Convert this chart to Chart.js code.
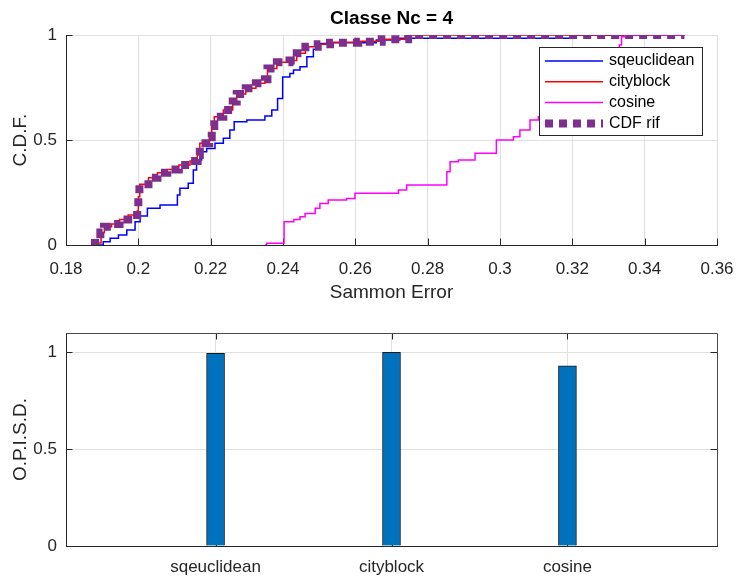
<!DOCTYPE html>
<html>
<head>
<meta charset="utf-8">
<script src="https://cdn.jsdelivr.net/npm/chart.js@4.4.0/dist/chart.umd.min.js"></script>
<style>
  html, body { margin: 0; padding: 0; background: #fff; }
  #wrap { position: relative; width: 738px; height: 576px; }
  #wrap canvas { position: absolute; left: 0; }
</style>
</head>
<body>
<div id="wrap">
  <canvas id="cdfChart" width="738" height="305" style="top:0"></canvas>
  <canvas id="barChart" width="738" height="271" style="top:305px"></canvas>
</div>
<script>
// Empirical CDFs of the Sammon error: x = where each stair jumps, y = level after the jump
const sqeuclideanX = [0.1885, 0.1903, 0.1922, 0.1945, 0.1968, 0.1991, 0.2005, 0.2025, 0.2060, 0.2108,
  0.2115, 0.2138, 0.2152, 0.2161, 0.2175, 0.2189, 0.2212, 0.2235, 0.2253, 0.2265, 0.2300, 0.2350,
  0.2369, 0.2385, 0.2399, 0.2419, 0.2429, 0.2447, 0.2466, 0.2484, 0.2497, 0.2530, 0.2658, 0.2723,
  0.3207, 0.3510];
const sqeuclideanY = [0, 0.016, 0.032, 0.048, 0.071, 0.111, 0.138, 0.175, 0.190, 0.238,
  0.270, 0.294, 0.357, 0.405, 0.444, 0.460, 0.484, 0.508, 0.548, 0.587, 0.595, 0.614,
  0.643, 0.698, 0.800, 0.817, 0.833, 0.849, 0.897, 0.932, 0.960, 0.963, 0.976, 0.984,
  1.0, 1.0];

const cityblockX = [0.1875, 0.1882, 0.1897, 0.1906, 0.1926, 0.1948, 0.1972, 0.1997, 0.2000, 0.2004,
  0.2028, 0.2053, 0.2080, 0.2112, 0.2143, 0.2163, 0.2170, 0.2196, 0.2203, 0.2210, 0.2235, 0.2261,
  0.2272, 0.2297, 0.2325, 0.2350, 0.2357, 0.2383, 0.2418, 0.2438, 0.2462, 0.2496, 0.2532, 0.2610,
  0.2675, 0.2746, 0.3510];
const cityblockY = [0, 0.010, 0.060, 0.087, 0.100, 0.122, 0.143, 0.162, 0.230, 0.289,
  0.320, 0.344, 0.360, 0.381, 0.400, 0.429, 0.484, 0.513, 0.567, 0.611, 0.643, 0.683,
  0.719, 0.746, 0.770, 0.789, 0.841, 0.870, 0.878, 0.913, 0.944, 0.956, 0.965, 0.970,
  0.980, 1.0, 1.0];

const cosineX = [0.2350, 0.2355, 0.2403, 0.2430, 0.2447, 0.2461, 0.2489, 0.2502, 0.2525, 0.2576,
  0.2599, 0.2719, 0.2742, 0.2853, 0.2862, 0.2885, 0.2931, 0.2990, 0.3037, 0.3055, 0.3083, 0.3106,
  0.3150, 0.3200, 0.3250, 0.3300, 0.3330, 0.3336, 0.3345, 0.3510];
const cosineY = [0, 0.008, 0.111, 0.122, 0.135, 0.150, 0.175, 0.198, 0.214, 0.222,
  0.246, 0.262, 0.286, 0.349, 0.397, 0.405, 0.437, 0.500, 0.516, 0.548, 0.595, 0.611,
  0.660, 0.720, 0.800, 0.880, 0.952, 0.992, 1.0, 1.0];

const rifX = [0.1875, 0.1880, 0.1895, 0.1905, 0.1925, 0.1948, 0.1972, 0.1997, 0.2000, 0.2003,
  0.2028, 0.2053, 0.2080, 0.2112, 0.2143, 0.2164, 0.2170, 0.2196, 0.2203, 0.2210, 0.2235, 0.2261,
  0.2272, 0.2297, 0.2325, 0.2350, 0.2357, 0.2383, 0.2418, 0.2438, 0.2462, 0.2496, 0.2530, 0.2608,
  0.2673, 0.2746, 0.3510];
const rifY = [0, 0.010, 0.060, 0.087, 0.100, 0.122, 0.143, 0.162, 0.230, 0.289,
  0.320, 0.344, 0.360, 0.381, 0.400, 0.429, 0.484, 0.513, 0.567, 0.611, 0.643, 0.683,
  0.719, 0.746, 0.770, 0.789, 0.841, 0.870, 0.878, 0.913, 0.944, 0.956, 0.963, 0.968,
  0.980, 1.0, 1.0];

const cdfXTicks = [0.18, 0.2, 0.22, 0.24, 0.26, 0.28, 0.3, 0.32, 0.34, 0.36];
const cdfYTicks = [0, 0.5, 1];

// O.P.I.S.D. per distance metric
const metrics = ['sqeuclidean', 'cityblock', 'cosine'];
const opisdValues = [0.995, 1.0, 0.93];
const barXTicks = [1, 2, 3];
const barYTicks = [0, 0.5, 1];

const FONT = '"Liberation Sans", Arial, sans-serif';
const AXIS = '#262626';
const GRID = '#e0e0e0';
const TICK_SIZE = 17;
const LABEL_SIZE = 19;
Chart.defaults.font.family = FONT;
Chart.defaults.color = AXIS;
Chart.defaults.animation = false;

const pts = (xs, ys) => xs.map((x, i) => ({ x, y: ys[i] }));
const setTicks = vals => scale => { scale.ticks = vals.map(v => ({ value: v })); };
// fixed axis band, no extra room reserved for overhanging labels
const fitX = h => s => { s.height = h; s.paddingLeft = 0; s.paddingRight = 0; };
const fitY = w => s => { s.width = w; s.paddingTop = 0; s.paddingBottom = 0; };

// ticks pointing into the axes, plus the closed box when asked for
const innerTicks = {
  id: 'innerTicks',
  beforeDatasetsDraw(chart, args, opts) {
    const { ctx, chartArea: a, scales: { x, y } } = chart;
    const len = 6.5;
    ctx.save();
    ctx.strokeStyle = AXIS;
    ctx.lineWidth = 1;
    ctx.beginPath();
    x.ticks.forEach(t => {
      const px = Math.round(x.getPixelForValue(t.value)) + 0.5;
      ctx.moveTo(px, a.bottom); ctx.lineTo(px, a.bottom - len);
      if (opts.box) { ctx.moveTo(px, a.top); ctx.lineTo(px, a.top + len); }
    });
    y.ticks.forEach(t => {
      const py = Math.round(y.getPixelForValue(t.value)) + 0.5;
      ctx.moveTo(a.left, py); ctx.lineTo(a.left + len, py);
      if (opts.box) { ctx.moveTo(a.right, py); ctx.lineTo(a.right - len, py); }
    });
    ctx.stroke();
    if (opts.box) {
      ctx.strokeStyle = '#4a4a4a';
      ctx.beginPath();
      ctx.moveTo(a.left, Math.round(a.top) + 0.5);
      ctx.lineTo(Math.round(a.right) + 0.5, Math.round(a.top) + 0.5);
      ctx.lineTo(Math.round(a.right) + 0.5, a.bottom);
      ctx.stroke();
    }
    ctx.restore();
  }
};

// bold title centred over the plot area
const axesTitle = {
  id: 'axesTitle',
  afterDraw(chart, args, opts) {
    const { ctx, chartArea: a } = chart;
    ctx.save();
    ctx.font = 'bold 19px ' + FONT;
    ctx.fillStyle = '#000';
    ctx.textAlign = 'center';
    ctx.textBaseline = 'middle';
    ctx.fillText(opts.text, (a.left + a.right) / 2, a.top - 16);
    ctx.restore();
  }
};

// boxed legend drawn inside the plot, upper right
const boxLegend = {
  id: 'boxLegend',
  afterDraw(chart) {
    const { ctx, chartArea: a } = chart;
    const w = 163, h = 88;
    const left = Math.round(a.right - 15 - w), top = Math.round(a.top + 12);
    ctx.save();
    ctx.fillStyle = '#fff';
    ctx.fillRect(left, top, w, h);
    ctx.strokeStyle = AXIS;
    ctx.lineWidth = 1;
    ctx.strokeRect(left + 0.5, top + 0.5, w, h);
    ctx.font = '16px ' + FONT;
    ctx.textBaseline = 'middle';
    chart.data.datasets.forEach((ds, i) => {
      const yy = top + 14 + i * 20.8;
      ctx.strokeStyle = ds.borderColor;
      ctx.lineWidth = ds.borderWidth;
      ctx.lineCap = 'butt';
      ctx.setLineDash(ds.borderDash || []);
      ctx.beginPath();
      ctx.moveTo(left + 6, yy);
      ctx.lineTo(left + 64, yy);
      ctx.stroke();
      ctx.setLineDash([]);
      ctx.fillStyle = '#000';
      ctx.fillText(ds.label, left + 70, yy);
    });
    ctx.restore();
  }
};

function stairs(label, xs, ys, color, order, extra) {
  return Object.assign({
    label, data: pts(xs, ys), borderColor: color, borderWidth: 1.5,
    stepped: true, pointRadius: 0, fill: false, order
  }, extra || {});
}

new Chart(document.getElementById('cdfChart'), {
  type: 'line',
  data: {
    datasets: [
      stairs('sqeuclidean', sqeuclideanX, sqeuclideanY, '#0000ff', 3),
      stairs('cityblock', cityblockX, cityblockY, '#ff0000', 2),
      stairs('cosine', cosineX, cosineY, '#ff00ff', 1),
      stairs('CDF rif', rifX, rifY, '#7e2f8e', 0, { borderWidth: 8, borderDash: [8, 6], borderCapStyle: 'butt' })
    ]
  },
  options: {
    responsive: false,
    devicePixelRatio: 1,
    layout: { padding: { left: 0, right: 21, top: 35, bottom: 0 } },
    plugins: {
      legend: { display: false },
      tooltip: { enabled: false },
      title: { display: false },
      axesTitle: { text: 'Classe Nc = 4' },
      innerTicks: { box: false }
    },
    scales: {
      x: {
        type: 'linear', min: 0.18, max: 0.36,
        afterBuildTicks: setTicks(cdfXTicks),
        afterFit: fitX(60),
        grid: { color: GRID, drawTicks: false },
        border: { color: AXIS },
        ticks: { font: { size: TICK_SIZE }, padding: 14, maxRotation: 0, autoSkip: false,
          callback: v => String(+v.toFixed(2)) },
        title: { display: true, text: 'Sammon Error', font: { size: LABEL_SIZE }, padding: { bottom: 1 } }
      },
      y: {
        type: 'linear', min: 0, max: 1,
        afterBuildTicks: setTicks(cdfYTicks),
        afterFit: fitY(66),
        grid: { color: GRID, drawTicks: false },
        border: { color: AXIS },
        ticks: { font: { size: TICK_SIZE }, padding: 9, callback: v => String(v) },
        title: { display: true, text: 'C.D.F.', font: { size: LABEL_SIZE }, padding: { top: 9 } }
      }
    }
  },
  plugins: [innerTicks, axesTitle, boxLegend]
});

new Chart(document.getElementById('barChart'), {
  type: 'bar',
  data: {
    datasets: [{
      data: pts(barXTicks, opisdValues),
      backgroundColor: '#0072bd',
      borderColor: '#1a1a1a',
      borderWidth: 1,
      barThickness: 18
    }]
  },
  options: {
    responsive: false,
    devicePixelRatio: 1,
    layout: { padding: { left: 0, right: 21, top: 28, bottom: 0 } },
    plugins: {
      legend: { display: false },
      tooltip: { enabled: false },
      innerTicks: { box: true }
    },
    scales: {
      x: {
        type: 'linear', min: 0.15, max: 3.85, offset: false,
        afterBuildTicks: setTicks(barXTicks),
        afterFit: fitX(30),
        grid: { color: GRID, drawTicks: false, offset: false },
        border: { color: AXIS },
        ticks: { font: { size: TICK_SIZE }, padding: 11, maxRotation: 0, autoSkip: false,
          callback: v => metrics[Math.round(v) - 1] }
      },
      y: {
        type: 'linear', min: 0, max: 1.1,
        afterBuildTicks: setTicks(barYTicks),
        afterFit: fitY(66),
        grid: { color: GRID, drawTicks: false },
        border: { color: AXIS },
        ticks: { font: { size: TICK_SIZE }, padding: 9, callback: v => String(v) },
        title: { display: true, text: 'O.P.I.S.D.', font: { size: LABEL_SIZE }, padding: { top: 9 } }
      }
    }
  },
  plugins: [innerTicks]
});
</script>
</body>
</html>
